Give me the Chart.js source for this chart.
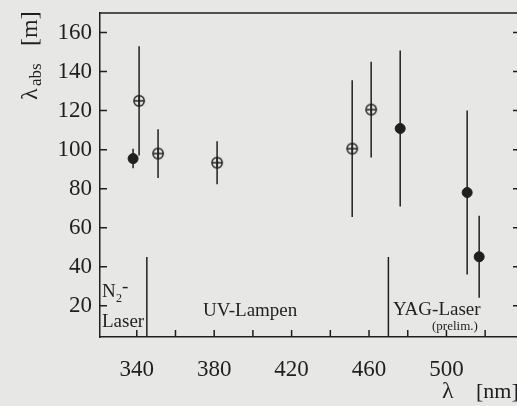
<!DOCTYPE html>
<html>
<head>
<meta charset="utf-8">
<script src="https://cdn.jsdelivr.net/npm/chart.js@4.4.0/dist/chart.umd.min.js"></script>
<style>
html, body { margin: 0; padding: 0; background: #e7e7e5; overflow: hidden; }
</style>
</head>
<body>
<canvas id="myChart" width="522" height="406"></canvas>
<script>
// wavelengths [nm] and absorption lengths [m]
const filledX = [338.1, 476.1, 510.7, 516.9];
const filledY = [95.4, 110.8, 78.0, 45.1];
const filledErr = [5, 40, 42, 21];

const openX = [341.2, 351.0, 381.5, 451.3, 461.1];
const openY = [125.0, 98.0, 93.3, 100.5, 120.5];
const openErr = [28, 12.5, 11, 35, 24.5];

// separators between the light source groups
const sepX = [345.2, 470.0];
const sepTop = 45;

const xTicks = [340, 360, 380, 400, 420, 440, 460, 480, 500, 520];
const xLabels = [340, 380, 420, 460, 500];
const yTicks = [20, 40, 60, 80, 100, 120, 140, 160];

const ink = '#1f1f1f';
const serif = "'Liberation Serif', 'DejaVu Serif', serif";

// circle with a cross, as point image
function crossCircle() {
    const c = document.createElement('canvas');
    c.width = 14; c.height = 14;
    const g = c.getContext('2d');
    g.strokeStyle = ink;
    g.lineWidth = 1.4;
    g.beginPath();
    g.arc(7, 7, 5.2, 0, Math.PI * 2);
    g.stroke();
    g.beginPath();
    g.moveTo(2, 7); g.lineTo(12, 7);
    g.moveTo(7, 2); g.lineTo(7, 12);
    g.stroke();
    return c;
}

const toPoints = (xs, ys, es) => xs.map((x, i) => ({x: x, y: ys[i], e: es[i]}));

//Draws error bars and separators under the markers
const errorBars = {
    id: 'errorBars',
    beforeDatasetsDraw(chart) {
        const {ctx, scales: {x, y}} = chart;
        ctx.save();
        ctx.strokeStyle = ink;
        ctx.lineWidth = 1.5;
        chart.data.datasets.forEach(ds => {
            ds.data.forEach(p => {
                const px = x.getPixelForValue(p.x);
                ctx.beginPath();
                ctx.moveTo(px, y.getPixelForValue(p.y + p.e));
                ctx.lineTo(px, y.getPixelForValue(p.y - p.e));
                ctx.stroke();
            });
        });
        sepX.forEach(v => {
            const px = x.getPixelForValue(v);
            ctx.beginPath();
            ctx.moveTo(px, y.getPixelForValue(sepTop));
            ctx.lineTo(px, y.bottom);
            ctx.stroke();
        });
        ctx.restore();
    }
};

//Draws frame, inward ticks and text labels
const frame = {
    id: 'frame',
    afterDraw(chart) {
        const {ctx, chartArea: a, scales: {x, y}} = chart;
        ctx.save();
        ctx.strokeStyle = ink;
        ctx.lineWidth = 1.5;
        ctx.beginPath();
        ctx.moveTo(a.left, a.top); ctx.lineTo(a.right, a.top);
        ctx.moveTo(a.right, a.top); ctx.lineTo(a.right, a.bottom);
        yTicks.forEach(v => {
            const py = y.getPixelForValue(v);
            ctx.moveTo(a.left, py); ctx.lineTo(a.left + 7, py);
            ctx.moveTo(a.right, py); ctx.lineTo(a.right - 7, py);
        });
        xTicks.forEach(v => {
            const px = x.getPixelForValue(v);
            ctx.moveTo(px, a.bottom); ctx.lineTo(px, a.bottom - 7);
        });
        ctx.stroke();

        ctx.fillStyle = ink;
        ctx.textBaseline = 'alphabetic';
        ctx.textAlign = 'left';

        // group labels
        ctx.font = '19px ' + serif;
        ctx.fillText('N', 102, 297);
        ctx.font = '12px ' + serif;
        ctx.fillText('2', 116, 302);
        ctx.font = '19px ' + serif;
        ctx.fillText('-', 122, 292);
        ctx.fillText('Laser', 102, 327);
        ctx.fillText('UV-Lampen', 203, 316);
        ctx.fillText('YAG-Laser', 393, 315);
        ctx.font = '13px ' + serif;
        ctx.fillText('(prelim.)', 432, 330);

        // x title
        ctx.font = '24px ' + serif;
        ctx.fillText('\u03bb', 442, 398);
        ctx.font = '22px ' + serif;
        ctx.fillText('[nm]', 476, 398);

        // y title, rotated
        ctx.translate(37, 100);
        ctx.rotate(-Math.PI / 2);
        ctx.font = '24px ' + serif;
        ctx.fillText('\u03bb', 0, 0);
        ctx.font = '17px ' + serif;
        ctx.fillText('abs', 14, 4);
        ctx.font = '24px ' + serif;
        ctx.fillText('[m]', 54, 0);
        ctx.restore();
    }
};

const chart = new Chart(document.getElementById('myChart'), {
    type: 'scatter',
    data: {
        datasets: [{
            label: 'filled',
            data: toPoints(filledX, filledY, filledErr),
            pointStyle: 'circle',
            pointRadius: 5,
            pointHoverRadius: 5,
            backgroundColor: ink,
            borderColor: ink,
            borderWidth: 1
        }, {
            label: 'open',
            data: toPoints(openX, openY, openErr),
            pointStyle: crossCircle(),
            pointRadius: 6,
            pointHoverRadius: 6
        }]
    },
    options: {
        responsive: false,
        animation: false,
        layout: { autoPadding: false, padding: { top: 13, right: 2, left: 0, bottom: 0 } },
        plugins: { legend: { display: false }, tooltip: { enabled: false } },
        scales: {
            x: {
                type: 'linear',
                min: 321,
                max: 538,
                afterBuildTicks: s => { s.ticks = xTicks.map(v => ({value: v})); },
                afterFit: s => { s.height = 69; s.paddingLeft = 0; s.paddingRight = 0; },
                grid: { display: false, drawTicks: false },
                border: { display: true, color: ink, width: 1.5 },
                ticks: {
                    autoSkip: false,
                    maxRotation: 0,
                    padding: 19,
                    color: ink,
                    font: { family: serif, size: 23 },
                    callback: v => xLabels.includes(v) ? String(v) : ''
                }
            },
            y: {
                type: 'linear',
                min: 4,
                max: 170,
                afterBuildTicks: s => { s.ticks = yTicks.map(v => ({value: v})); },
                afterFit: s => { s.width = 100; s.paddingTop = 0; s.paddingBottom = 0; },
                grid: { display: false, drawTicks: false },
                border: { display: true, color: ink, width: 1.5 },
                ticks: {
                    padding: 8,
                    color: ink,
                    font: { family: serif, size: 23 }
                }
            }
        }
    },
    plugins: [errorBars, frame]
});
</script>
</body>
</html>
